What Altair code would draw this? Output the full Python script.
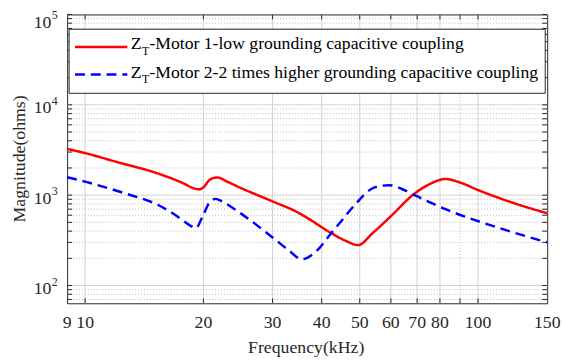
import altair as alt
import pandas as pd

# ---- data ----
freq_red = [9, 10, 12, 15.3, 17.8, 18.9, 19.5, 20.0, 20.8, 21.7, 23, 24.7, 30, 34.4, 36.4,
            42.1, 46, 49.5, 54, 60, 68.7, 76, 82.6, 90, 100, 120, 150]
mag_red = [3250, 2920, 2340, 1740, 1350, 1190, 1160, 1220, 1490, 1570, 1410, 1220, 853, 660, 575,
           385, 313, 280, 382, 585, 1030, 1350, 1510, 1380, 1140, 850, 630]

freq_blue = [9, 10, 12.6, 15.3, 17.0, 18.6, 19.1, 20.0, 20.8, 21.5, 22.1, 24.8, 30, 33, 35.6,
             38.5, 42.1, 45, 48.6, 54.6, 59.5, 64, 68.7, 83.3, 100, 120, 150]
mag_blue = [1580, 1410, 1050, 783, 600, 455, 430, 610, 850, 910, 870, 635, 340, 245, 195,
            233, 369, 525, 783, 1220, 1290, 1170, 1010, 690, 516, 400, 300]

series = ["Motor 1", "Motor 2"]
legend_main = ["Z", "Z"]
legend_sub = ["T", "T"]
legend_rest = ["-Motor 1-low grounding capacitive coupling",
               "-Motor 2-2 times higher grounding capacitive coupling"]

x_labels = [9, 10, 20, 30, 40, 50, 60, 70, 80, 100, 150]
x_label_text = ["9", "10", "20", "30", "40", "50", "60", "70", "80", "100", "150"]
x_major = [10, 20, 30, 40, 50, 60, 70, 80, 100]
x_minor = [90]
x_ticks = [10, 20, 30, 40, 50, 60, 70, 80, 90, 100]
y_major = [100, 1000, 10000, 100000]
y_minor = [70, 80, 90] + [m * 100 for m in range(2, 10)] + [m * 1000 for m in range(2, 10)] + \
          [m * 10000 for m in range(2, 10)]
y_exp = ["2", "3", "4", "5"]

FONT = "Liberation Serif, Times New Roman, DejaVu Serif, serif"
TXT = "#262626"
W, H = 487, 293

df = pd.concat([
    pd.DataFrame({"f": freq_red, "m": mag_red, "s": series[0]}),
    pd.DataFrame({"f": freq_blue, "m": mag_blue, "s": series[1]}),
])

xs = alt.Scale(type="log", domain=[9, 150], nice=False)
ys = alt.Scale(type="log", domain=[63.6, 100000], nice=False)
one = pd.DataFrame({"a": [0]})


def X(field="v"):
    return alt.X(f"{field}:Q", scale=xs, axis=None)


def Y(field="v"):
    return alt.Y(f"{field}:Q", scale=ys, axis=None)


# grids
ygrid_major = alt.Chart(pd.DataFrame({"v": y_major[:3]})).mark_rule(
    color="#d2d2d2", strokeWidth=1).encode(y=Y())
xgrid_major = alt.Chart(pd.DataFrame({"v": x_major})).mark_rule(
    color="#d2d2d2", strokeWidth=1).encode(x=X())
ygrid_minor = alt.Chart(pd.DataFrame({"v": y_minor})).mark_rule(
    color="#bdbdbd", strokeDash=[1, 2], strokeWidth=1).encode(y=Y())
xgrid_minor = alt.Chart(pd.DataFrame({"v": x_minor})).mark_rule(
    color="#bdbdbd", strokeDash=[1, 2], strokeWidth=1).encode(x=X())

lines = alt.Chart(df).mark_line(strokeWidth=2.5, interpolate="monotone").encode(
    x=X("f"),
    y=Y("m"),
    color=alt.Color("s:N", scale=alt.Scale(domain=series, range=["#ff0000", "#0000ff"]), legend=None),
    strokeDash=alt.StrokeDash("s:N", scale=alt.Scale(domain=series, range=[[1, 0], [10, 6]]), legend=None),
)

# inward ticks on all four sides
yt = pd.DataFrame({"v": y_major + y_minor})
xt = pd.DataFrame({"v": x_ticks})
tick_style = dict(color=TXT, strokeWidth=1)
ticks_left = alt.Chart(yt).mark_rule(**tick_style).encode(y=Y(), x=alt.value(0), x2=alt.value(5))
ticks_right = alt.Chart(yt).mark_rule(**tick_style).encode(y=Y(), x=alt.value(W - 5), x2=alt.value(W))
ticks_bottom = alt.Chart(xt).mark_rule(**tick_style).encode(x=X(), y=alt.value(H - 5), y2=alt.value(H))
ticks_top = alt.Chart(xt).mark_rule(**tick_style).encode(x=X(), y=alt.value(0), y2=alt.value(5))

# x tick labels
xlab = alt.Chart(pd.DataFrame({"v": x_labels, "t": x_label_text})).mark_text(
    font=FONT, fontSize=18, align="center", baseline="alphabetic", color=TXT).encode(
    x=X(), y=alt.value(318), text="t:N")

# y tick labels 10^n
ylab_df = pd.DataFrame({"v": y_major[:3], "e": y_exp[:3]})
ytop_df = pd.DataFrame({"v": y_major[3:], "e": y_exp[3:]})


def ylabels(data, shift):
    base = alt.Chart(data).mark_text(font=FONT, fontSize=18, align="right", baseline="alphabetic",
                                     dy=8.5 + shift, color=TXT, text="10").encode(
        y=Y(), x=alt.value(-16))
    exp = alt.Chart(data).mark_text(font=FONT, fontSize=12, align="left", baseline="alphabetic",
                                    dy=0 + shift, color=TXT).encode(
        y=Y(), x=alt.value(-15.5), text="e:N")
    return [base, exp]


ytitle = alt.Chart(one).mark_text(font=FONT, fontSize=18, angle=270, align="center", baseline="middle",
                                  color=TXT, text="Magnitude(ohms)").encode(
    x=alt.value(-47.5), y=alt.value(H / 2))
xtitle = alt.Chart(one).mark_text(font=FONT, fontSize=18, align="center", baseline="alphabetic",
                                  color=TXT, text="Frequency(kHz)").encode(
    x=alt.value(W / 2 - 1), y=alt.value(343.5))

# legend
leg_box = alt.Chart(one).mark_rect(fill="white", stroke=TXT, strokeWidth=1).encode(
    x=alt.value(2), x2=alt.value(485), y=alt.value(15), y2=alt.value(80))
leg_red = alt.Chart(one).mark_rule(color="#ff0000", strokeWidth=2.5).encode(
    x=alt.value(8), x2=alt.value(61), y=alt.value(33))
leg_blue = alt.Chart(one).mark_rule(color="#0000ff", strokeWidth=2.5, strokeDash=[10, 6]).encode(
    x=alt.value(8), x2=alt.value(61), y=alt.value(61))

leg_layers = []
for i, yb in enumerate([35.5, 64]):
    leg_layers.append(alt.Chart(one).mark_text(font=FONT, fontSize=18, align="left", baseline="alphabetic",
                                               color="black", text=legend_main[i]).encode(
        x=alt.value(64.5), y=alt.value(yb)))
    leg_layers.append(alt.Chart(one).mark_text(font=FONT, fontSize=12, align="left", baseline="alphabetic",
                                               color="black", text=legend_sub[i]).encode(
        x=alt.value(76), y=alt.value(yb + 6)))
    leg_layers.append(alt.Chart(one).mark_text(font=FONT, fontSize=17.9, align="left", baseline="alphabetic",
                                               color="black", text=legend_rest[i]).encode(
        x=alt.value(83.5), y=alt.value(yb)))

chart = alt.layer(
    ygrid_major, xgrid_major, ygrid_minor, xgrid_minor, lines,
    ticks_left, ticks_right, ticks_bottom, ticks_top,
    leg_box, leg_red, leg_blue, *leg_layers,
    xlab, *ylabels(ylab_df, 0), *ylabels(ytop_df, 5), ytitle, xtitle,
).properties(
    width=W, height=H,
    autosize=alt.AutoSizeParams(type="none"),
    padding={"left": 60, "top": 4, "right": 14, "bottom": 55},
).configure_view(
    stroke=TXT, strokeWidth=1
)

chart.save("out.html", embed_options={"renderer": "svg", "actions": False})
